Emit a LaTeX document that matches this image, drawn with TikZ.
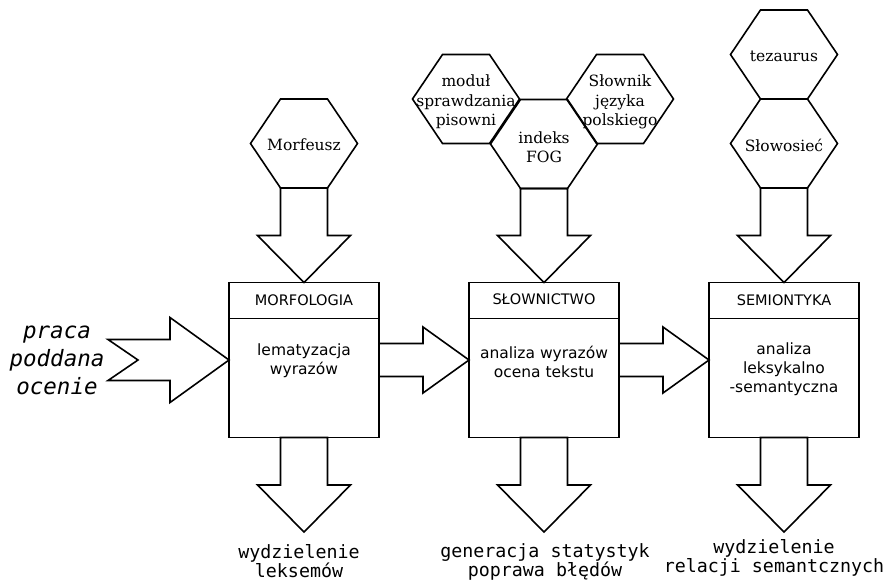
\documentclass[tikz,border=0pt]{standalone}
\usepackage{fontspec}
\setmainfont{DejaVu Serif}
\setsansfont{DejaVu Sans}
\setmonofont{DejaVu Sans Mono}
\usetikzlibrary{calc}

\tikzset{
  line/.style={line width=1.6pt, line join=miter},
  box/.style={line, draw, rectangle, minimum width=150pt, minimum height=155pt,
    inner sep=0pt, outer sep=0pt},
  blockarrow/.style={line, draw},
  hexline/.style={line, draw},
  hextext/.style={font=\fontsize{15.5}{19.5}\selectfont, align=center, inner sep=0pt},
  headtext/.style={font=\sffamily\fontsize{14.5}{17}\selectfont, inner sep=0pt},
  bodytext/.style={font=\sffamily\fontsize{15.5}{19}\selectfont, align=center,
    inner sep=0pt, anchor=north},
  outtext/.style={font=\ttfamily\fontsize{18.3}{19.5}\selectfont, align=center,
    inner sep=0pt, anchor=north},
  intext/.style={font=\ttfamily\itshape\fontsize{22.5}{28}\selectfont, align=center,
    inner sep=0pt},
}

% flat-topped hexagon around a named coordinate
\newcommand\hexcell[1]{%
  \draw[hexline] ($(#1)+(-53.5,0)$) -- ($(#1)+(-23.5,-44.5)$) -- ($(#1)+(23.5,-44.5)$)
    -- ($(#1)+(53.5,0)$) -- ($(#1)+(23.5,44.5)$) -- ($(#1)+(-23.5,44.5)$) -- cycle;}

% wide downward block arrow: shaft start, tip, head length
\newcommand\downblock[3]{%
  \draw[blockarrow] let \p1=(#1), \p2=(#2) in
    (\x2-23.5pt,\y1) -- (\x2-23.5pt,\y2+#3) -- (\x2-46.5pt,\y2+#3) -- (\x2,\y2)
    -- (\x2+46.5pt,\y2+#3) -- (\x2+23.5pt,\y2+#3) -- (\x2+23.5pt,\y1) -- cycle;}

% rightward block arrow: tail, tip, shaft half, head half, head length, notch depth
\newcommand\rightblock[6]{%
  \draw[blockarrow] let \p1=(#1), \p2=(#2) in
    (\x1,\y2+#3) -- (\x2-#5,\y2+#3) -- (\x2-#5,\y2+#4) -- (\x2,\y2)
    -- (\x2-#5,\y2-#4) -- (\x2-#5,\y2-#3) -- (\x1,\y2-#3) -- (\x1+#6,\y2) -- cycle;}

\begin{document}
\begin{tikzpicture}[x=1pt, y=-1pt]
\useasboundingbox (0,0) rectangle (888,582);

% processing stages
\node[box] (b1) at (304,360) {};
\node[box] (b2) at (544,360) {};
\node[box] (b3) at (784,360) {};
\foreach \b in {b1,b2,b3}{
  \draw[line] ($(\b.north west)+(0,36)$) -- ($(\b.north east)+(0,36)$);
}

\node[headtext] (h1) at (304,300) {MORFOLOGIA};
\node[headtext] (h2) at (544,299) {SŁOWNICTWO};
\node[headtext] (h3) at (784,300) {SEMIONTYKA};

\node[bodytext] (t1) at (304,344) {lematyzacja\\wyrazów};
\node[bodytext] (t2) at (544,346) {analiza wyrazów\\ocena tekstu};
\node[bodytext] (t3) at (784,343) {analiza\\leksykalno\\-semantyczna};

% resources
\coordinate (cmorf) at (304,143.5);
\coordinate (cmod)  at (466,99);
\coordinate (cslo)  at (620,99);
\coordinate (cfog)  at (544,144);
\coordinate (ctez)  at (784,54.5);
\coordinate (csow)  at (784,143.5);
\foreach \c in {cmorf,cmod,cslo,cfog,ctez,csow}{\hexcell{\c}}

\node[hextext] (morf) at (304,145) {Morfeusz};
\node[hextext] (mod)  at (466,102) {moduł\\sprawdzania\\pisowni};
\node[hextext] (slo)  at (620,102) {Słownik\\języka\\polskiego};
\node[hextext] (fog)  at (544,147) {indeks\\FOG};
\node[hextext] (tez)  at (784,56)  {tezaurus};
\node[hextext] (sow)  at (784,145) {Słowosieć};

% resource inputs
\downblock{$(cmorf)+(0,44.5)$}{b1.north}{47pt}
\downblock{$(cfog)+(0,44.5)$}{b2.north}{47pt}
\downblock{$(csow)+(0,44.5)$}{b3.north}{47pt}

% flow between stages
\coordinate (in) at (108,360);
\rightblock{in}{b1.west}{20.5pt}{42.5pt}{59pt}{30pt}
\rightblock{b1.east}{b2.west}{16.5pt}{33pt}{46pt}{0pt}
\rightblock{b2.east}{b3.west}{16.5pt}{33pt}{46pt}{0pt}

\node[intext] (inp) at (57,360) {praca\\poddana\\ocenie};

% results
\coordinate (out1) at (304,532);
\coordinate (out2) at (544,532);
\coordinate (out3) at (784,532);
\downblock{b1.south}{out1}{47pt}
\downblock{b2.south}{out2}{47pt}
\downblock{b3.south}{out3}{47pt}

\node[outtext] (o1) at (299,544) {wydzielenie\\leksemów};
\node[outtext] (o2) at (545,543) {generacja statystyk\\poprawa błędów};
\node[outtext] (o3) at (774,539) {wydzielenie\\relacji semantcznych};
\end{tikzpicture}
\end{document}
